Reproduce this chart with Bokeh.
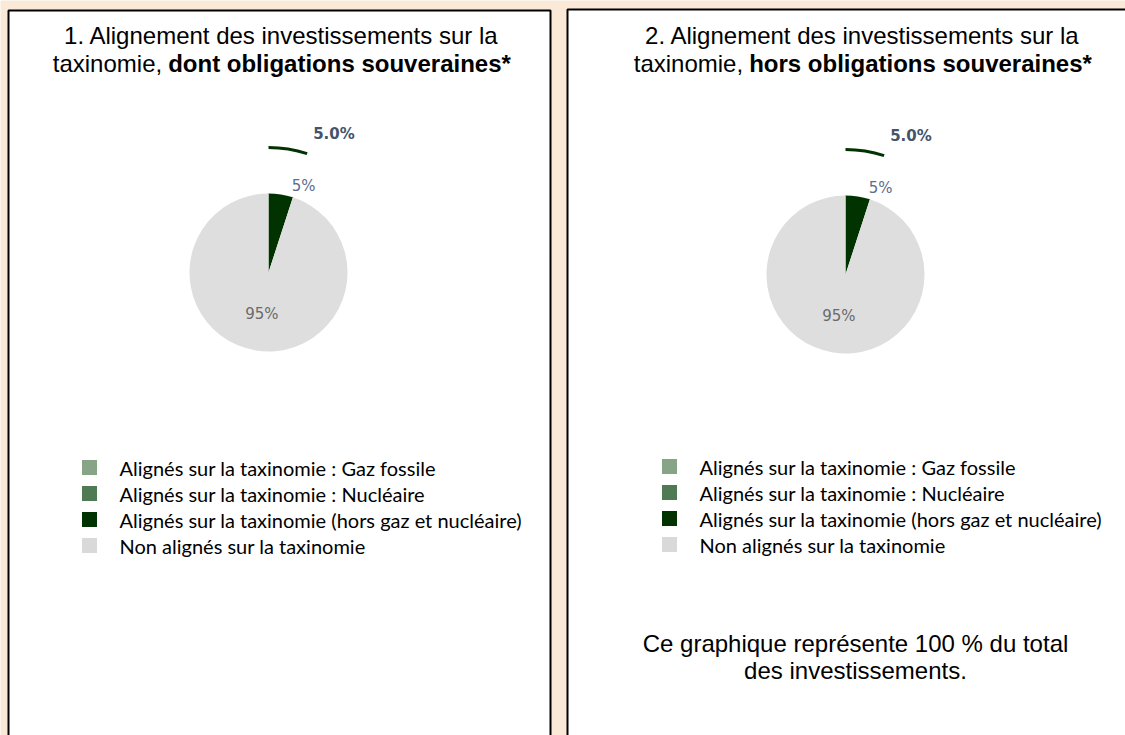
import math
from bokeh.plotting import figure
from bokeh.models import Range1d
from bokeh.embed import file_html
from bokeh.resources import INLINE

# ---------------- data ----------------
categories = [
    "Alignés sur la taxinomie : Gaz fossile",
    "Alignés sur la taxinomie : Nucléaire",
    "Alignés sur la taxinomie (hors gaz et nucléaire)",
    "Non alignés sur la taxinomie",
]
cat_colors = ["#87A487", "#4F7A54", "#003300", "#D9D9D9"]
values_dont_souv = [0, 0, 5, 95]      # chart 1 (%)
values_hors_souv = [0, 0, 5, 95]      # chart 2 (%)
aligned_total = [5.0, 5.0]            # outer ring label (%)
titles_l1 = ["1. Alignement des investissements sur la",
             "2. Alignement des investissements sur la"]
titles_norm = ["taxinomie, ", "taxinomie, "]
titles_bold = ["dont obligations souveraines*", "hors obligations souveraines*"]
note_lines = ["Ce graphique représente 100 % du total", "des investissements."]

# ---------------- helpers ----------------
W, H = 1125, 735
BG = "#FBE9D7"
PIE_GREY = "#DEDEDE"

def Y(py):
    return H - py

# Arial-compatible widths (Liberation Sans), units/1000
REG = {'t': 278, 'a': 556, 'x': 500, 'i': 222, 'n': 556, 'o': 556, 'm': 833,
       'e': 556, ',': 278, ' ': 278}
BOLD = {'d': 611, 'o': 611, 'n': 611, 't': 333, ' ': 278, 'b': 611, 'l': 278,
        'i': 278, 'g': 611, 'a': 556, 's': 556, 'u': 611, 'v': 556, 'e': 556,
        'r': 389, '*': 389, 'h': 611}

def tw(s, table, size):
    return sum(table.get(c, 556) for c in s) * size / 1000.0

p = figure(width=W, height=H, x_range=Range1d(0, W), y_range=Range1d(0, H),
           output_backend="svg", toolbar_location=None, min_border=0)
p.axis.visible = False
p.grid.visible = False
p.outline_line_color = None
p.background_fill_color = BG
p.border_fill_color = BG

# panels
p.quad(left=[8, 567], right=[550, 1140], top=[Y(10), Y(9)], bottom=[-20, -20],
       fill_color="white", line_color="black", line_width=2)

TITLE_FONT = "Liberation Sans"
TS = 24
LBL = 15
panels = [
    dict(title_cx=281, cx=268, cy=272, leg_x=119, leg_y0=467, values=values_dont_souv),
    dict(title_cx=862, cx=845, cy=274, leg_x=699, leg_y0=466, values=values_hors_souv),
]

R = 79
R_OUT = 125
for i, pn in enumerate(panels):
    # titles
    p.text(x=[pn["title_cx"]], y=[Y(35)], text=[titles_l1[i]],
           text_align="center", text_baseline="middle",
           text_font_size=f"{TS}px", text_color="black",
           text_font={"value": TITLE_FONT})
    wn = tw(titles_norm[i], REG, TS)
    wb = tw(titles_bold[i], BOLD, TS)
    x0 = pn["title_cx"] - (wn + wb) / 2 + wn
    p.text(x=[x0 - 6], y=[Y(63)], text=[titles_norm[i].rstrip()],
           text_align="right", text_baseline="middle",
           text_font_size=f"{TS}px", text_color="black",
           text_font={"value": TITLE_FONT})
    p.text(x=[x0], y=[Y(63)], text=[titles_bold[i]],
           text_align="left", text_baseline="middle",
           text_font_size=f"{TS}px", text_color="black", text_font_style="bold",
           text_font={"value": TITLE_FONT})

    # pie
    vals = pn["values"]
    tot = float(sum(vals))
    ang = math.pi / 2
    starts, ends, cols = [], [], []
    for v, c in zip(vals, cat_colors):
        if v <= 0:
            continue
        a2 = ang - v / tot * 2 * math.pi
        starts.append(a2)
        ends.append(ang)
        cols.append(c if c != "#D9D9D9" else PIE_GREY)
        ang = a2
    p.wedge(x=[pn["cx"]] * len(starts), y=[Y(pn["cy"])] * len(starts), radius=R,
            start_angle=starts, end_angle=ends, fill_color=cols, line_color=None)

    # slice labels
    a_dark_end = math.pi / 2 - vals[2] / tot * 2 * math.pi
    lx = pn["cx"] + 91 * math.cos(a_dark_end) + 7
    ly = Y(pn["cy"]) + 91 * math.sin(a_dark_end)
    p.text(x=[lx], y=[ly], text=[f"{vals[2]:.0f}%"], text_align="center",
           text_baseline="middle", text_font_size=f"{LBL}px", text_color="#5C6D91",
           text_font={"value": "DejaVu Sans"})
    a_grey_mid = (a_dark_end + (a_dark_end - vals[3] / tot * 2 * math.pi)) / 2
    gx = pn["cx"] + 42 * math.cos(a_grey_mid)
    gy = Y(pn["cy"]) + 42 * math.sin(a_grey_mid)
    p.text(x=[gx], y=[gy], text=[f"{vals[3]:.0f}%"], text_align="center",
           text_baseline="middle", text_font_size=f"{LBL}px", text_color="#6A6A6A",
           text_font={"value": "DejaVu Sans"})

    # outer ring arc (total aligned)
    a_tot = math.pi / 2 - aligned_total[i] / 100.0 * 2 * math.pi
    p.arc(x=[pn["cx"]], y=[Y(pn["cy"])], radius=R_OUT, start_angle=a_tot,
          end_angle=math.pi / 2, line_color="#003300", line_width=3)
    ox = pn["cx"] + R_OUT * math.cos(a_tot) + 6
    oy = Y(pn["cy"]) + R_OUT * math.sin(a_tot) + 20
    p.text(x=[ox], y=[oy], text=[f"{aligned_total[i]:.1f}%"], text_align="left",
           text_baseline="middle", text_font_size=f"{LBL}px", text_color="#44546A",
           text_font_style="bold", text_font={"value": "DejaVu Sans"})

    # legend
    ys = [Y(pn["leg_y0"] + 26 * k) for k in range(len(categories))]
    p.rect(x=[pn["leg_x"] - 30] * len(categories), y=ys, width=15, height=15,
           fill_color=cat_colors, line_color=None)
    p.text(x=[pn["leg_x"]] * len(categories), y=ys, text=categories,
           text_align="left", text_baseline="middle", text_font_size="20px",
           text_color="black", text_font={"value": "Lato"})

# note in panel 2
p.text(x=[855, 855], y=[Y(643), Y(670)], text=note_lines, text_align="center",
       text_baseline="middle", text_font_size=f"{TS}px", text_color="black",
       text_font={"value": TITLE_FONT})

open("out.html", "w").write(file_html(p, INLINE))
